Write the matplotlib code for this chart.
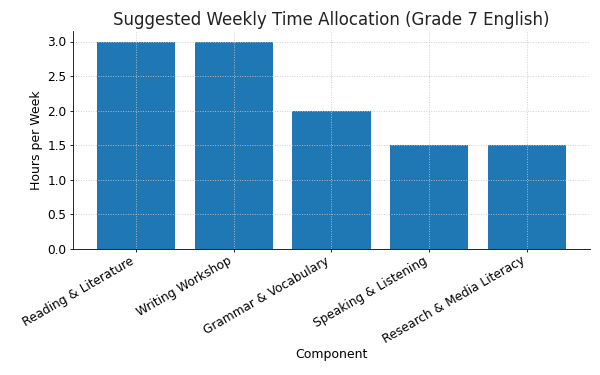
import matplotlib.pyplot as plt

components = [
    "Reading & Literature",
    "Writing Workshop",
    "Grammar & Vocabulary",
    "Speaking & Listening",
    "Research & Media Literacy",
]
hours = [3.0, 3.0, 2.0, 1.5, 1.5]

fig, ax = plt.subplots(figsize=(8, 5), dpi=75)
fig.subplots_adjust(left=0.122, right=0.983, top=0.917, bottom=0.336)

ax.bar(components, hours, color="#1f77b4", width=0.8)

ax.set_title("Suggested Weekly Time Allocation (Grade 7 English)", fontsize=16, color="#222222")
ax.set_xlabel("Component", fontsize=12, labelpad=2)
ax.set_ylabel("Hours per Week", fontsize=12)

ax.grid(True, linestyle=":", color="#c8c8c8", linewidth=0.9, alpha=0.9)
ax.spines["top"].set_visible(False)
ax.spines["right"].set_visible(False)
ax.tick_params(length=3, labelsize=11.6)
ax.tick_params(axis="x", pad=2)
plt.setp(ax.get_xticklabels(), rotation=30, ha="right")

fig.savefig("out.png", dpi=75)
